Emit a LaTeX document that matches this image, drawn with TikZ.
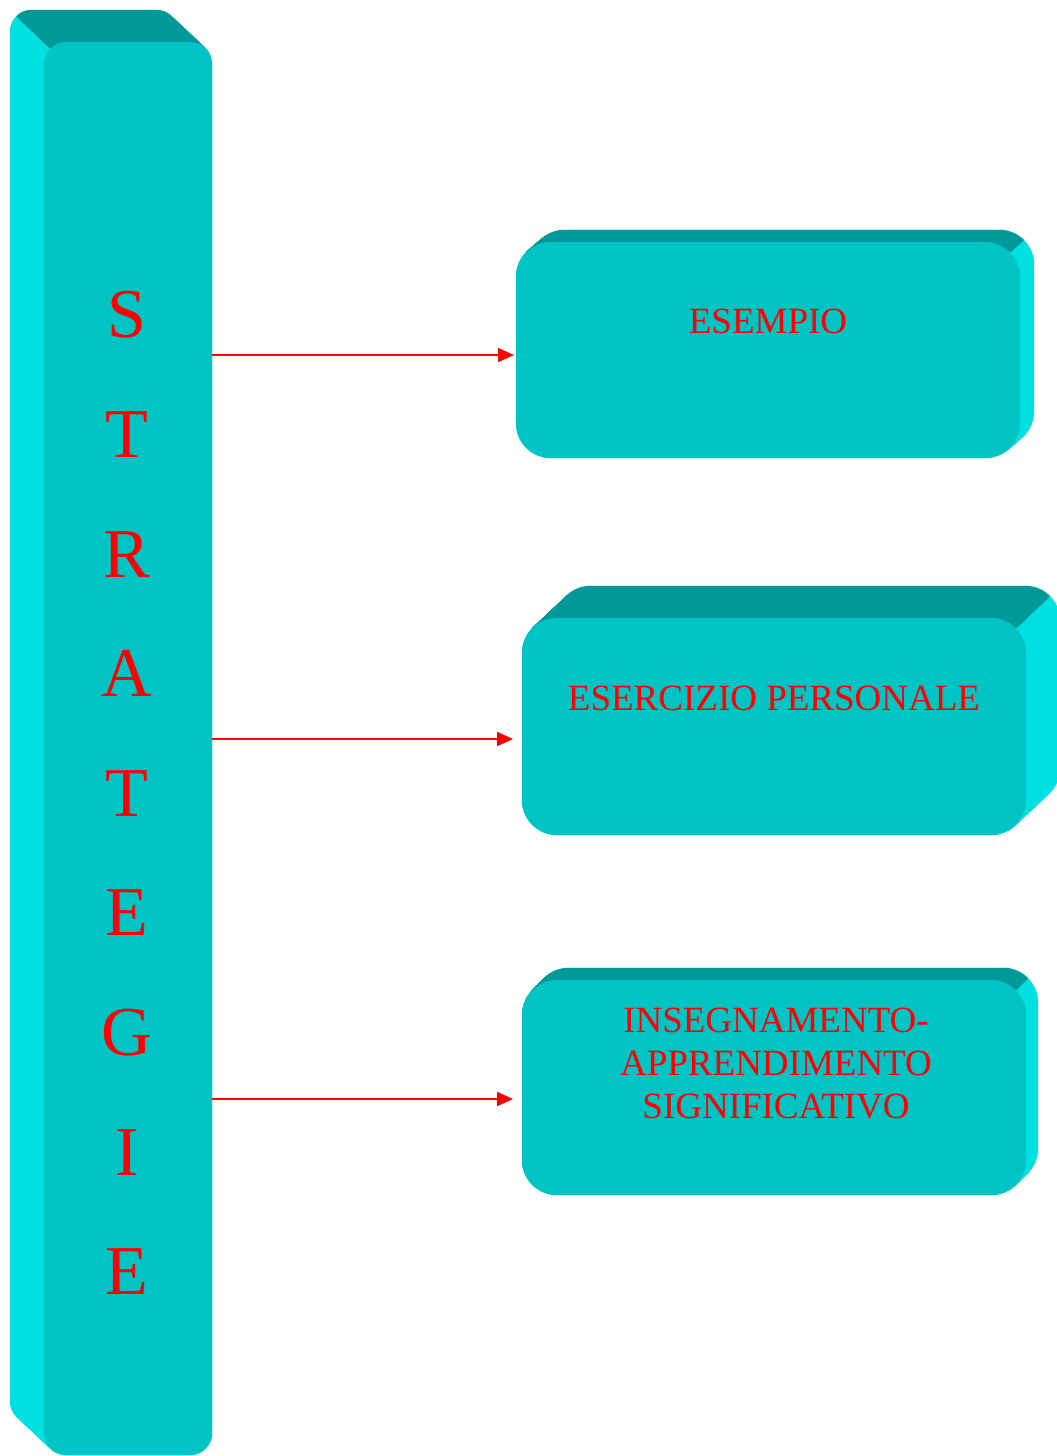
\documentclass[tikz,border=0pt]{standalone}
\usepackage{fontspec}
\setmainfont{Liberation Serif}
\usetikzlibrary{arrows.meta,calc}
\definecolor{facecol}{HTML}{00C4C4}
\definecolor{topcol}{HTML}{009999}
\definecolor{sidecol}{HTML}{00E0E0}
\definecolor{txtred}{HTML}{FF0000}
\pgfdeclarelayer{bg}
\pgfsetlayers{bg,main}
\begin{document}
\begin{tikzpicture}[x=1pt,y=-1pt,
  face/.style={fill=facecol,draw=none,inner sep=0pt,rounded corners=35pt},
  word/.style={text=txtred,font=\fontsize{37}{43}\selectfont,align=center,inner sep=0pt},
  arr/.style={draw=txtred,line width=1.6pt,-{Triangle[length=16pt,width=14pt]}}]
\useasboundingbox (0,0) rectangle (1057,1456);
% front faces
\node[face,rounded corners=22pt,minimum width=168pt,minimum height=1413pt] (bar) at (128,748.5) {};
\node[face,minimum width=504pt,minimum height=216pt] (b1) at (768,350) {};
\node[face,minimum width=504pt,minimum height=217pt] (b2) at (774,726.5) {};
\node[face,minimum width=504pt,minimum height=215pt] (b3) at (774,1087.5) {};
% texts
\foreach \ch [count=\i] in {S,T,R,A,T,E,G,I,E}
  \node[word,font=\fontsize{70}{70}\selectfont] (l\i) at (127,{315+119.6*(\i-1)}) {\ch};
\node[word] (t1) at (768,321) {ESEMPIO};
\node[word] (t2) at (774,698) {ESERCIZIO PERSONALE};
\node[word] (t3) at (776,1064) {INSEGNAMENTO-\\APPRENDIMENTO\\SIGNIFICATIVO};
% arrows
\coordinate (a1) at (514,355);
\coordinate (a2) at (513,739);
\coordinate (a3) at (513,1099);
\foreach \k in {1,2,3}
  \draw[arr] (bar.east |- a\k) -- (a\k);
% depth of the boxes
\begin{pgfonlayer}{bg}
\foreach \t in {0,0.04,...,1}
  \fill[sidecol,rounded corners=22pt] ($(bar.south west)+\t*(-34,-32)$) rectangle ($(bar.north east)+\t*(-34,-32)$);
\begin{scope}
\clip ($(bar.north west)+(6,6)$) -- ($(bar.north west)+(6,6)+3*(-34,-32)$) -- (400,-48) -- (400,48) -- cycle;
\foreach \t in {0,0.04,...,1}
  \fill[topcol,rounded corners=22pt] ($(bar.south west)+\t*(-34,-32)$) rectangle ($(bar.north east)+\t*(-34,-32)$);
\end{scope}
\foreach \nm/\dx/\dy in {b1/14/-12,b2/34/-32,b3/12/-12}{
  \foreach \t in {0,0.04,...,1}
    \fill[sidecol,rounded corners=35pt] ($(\nm.south west)+\t*(\dx,\dy)$) rectangle ($(\nm.north east)+\t*(\dx,\dy)$);
  \begin{scope}
  \clip ($(\nm.north west)+(-50,10)$) -- ($(\nm.north east)+(-10,10)$) -- ($(\nm.north east)+(-10,10)+10*(\dx,\dy)$) -- ($(\nm.north west)+(-50,-300)$) -- cycle;
  \foreach \t in {0,0.04,...,1}
    \fill[topcol,rounded corners=35pt] ($(\nm.south west)+\t*(\dx,\dy)$) rectangle ($(\nm.north east)+\t*(\dx,\dy)$);
  \end{scope}
}
\end{pgfonlayer}
\end{tikzpicture}
\end{document}
